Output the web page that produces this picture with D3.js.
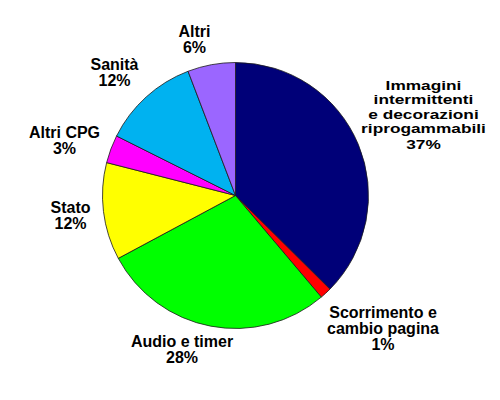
<!DOCTYPE html>
<html>
<head>
<meta charset="utf-8">
<script src="https://cdn.jsdelivr.net/npm/d3@7"></script>
<style>
  body { margin: 0; background: #fff; }
  svg text { font-family: "Liberation Sans", Arial, sans-serif; font-weight: bold; font-size: 16px; fill: #000; }
</style>
</head>
<body>
<svg id="chart" width="500" height="400"></svg>
<script>
// slices, clockwise from 12 o'clock
const categories = ["Immagini intermittenti e decorazioni riprogammabili", "Scorrimento e cambio pagina",
                    "Audio e timer", "Stato", "Altri CPG", "Sanità", "Altri"];
const values = [37.4, 1.4, 28.3, 11.8, 3.4, 11.8, 5.8];
const colors = ["#000078", "#ff0000", "#00ff00", "#ffff00", "#ff00ff", "#00b2f0", "#9b66ff"];
// label lines as printed on the chart
const labelLines = [
    ["Immagini", "intermittenti", "e decorazioni", "riprogammabili"],
    ["Scorrimento e", "cambio pagina"],
    ["Audio e timer"],
    ["Stato"],
    ["Altri CPG"],
    ["Sanità"],
    ["Altri"]
];
// where each label block sits (centre x, first baseline y)
const labelPos = [[423.5, 90], [383, 318], [182, 347], [70.5, 213], [64.5, 138], [114.5, 70], [194.5, 37]];

const cx = 235.5, cy = 195.5, R = 133;

const svg = d3.select("#chart");

const pie = d3.pie().sort(null).value(d => d)(values);
const arc = d3.arc().innerRadius(0).outerRadius(R);

const g = svg.append("g").attr("transform", `translate(${cx},${cy})`);

g.selectAll("path")
    .data(pie)
    .join("path")
    .attr("d", arc)
    .attr("fill", (d, i) => colors[i])
    .attr("stroke", "#1a1a1a")
    .attr("stroke-width", 0.8)
    .attr("stroke-linejoin", "round");

const total = d3.sum(values);

const labels = svg.append("g")
    .selectAll("text")
    .data(categories)
    .join("text")
    .attr("text-anchor", "middle")
    .attr("transform", (d, i) => {
        let t = `translate(${labelPos[i][0]},${labelPos[i][1]})`;
        // the long block is squeezed vertically in the original
        if (labelLines[i].length > 2) t += " scale(1.28,1)";
        return t;
    });

labels.each(function(d, i) {
    const t = d3.select(this);
    const long = labelLines[i].length > 2;
    const step = long ? 14.3 : 15.8;
    const lines = labelLines[i].concat([Math.round(values[i] / total * 100) + "%"]);
    lines.forEach((s, j) => {
        let y = j * step;
        if (long && j == lines.length - 1) y += 2;
        t.append("tspan")
            .attr("x", 0)
            .attr("y", y)
            .style("font-size", long ? "13.5px" : null)
            .text(s);
    });
});
</script>
</body>
</html>
